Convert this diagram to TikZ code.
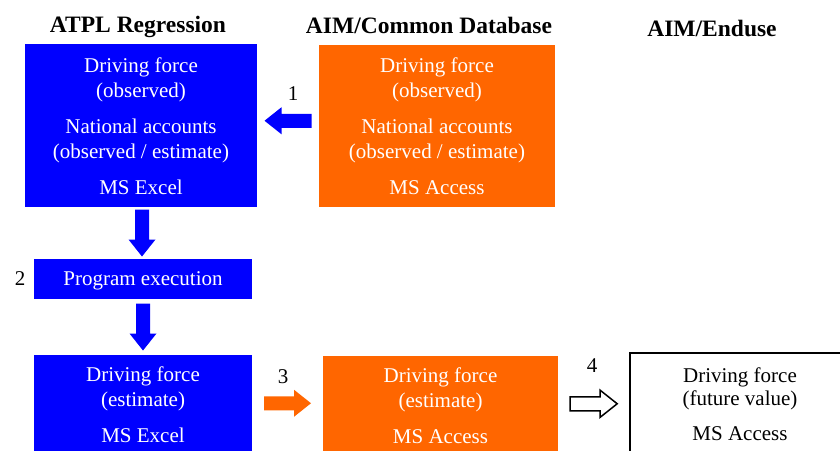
\documentclass[tikz,border=0pt]{standalone}
\usepackage{fontspec}
\setmainfont{Liberation Serif}
\usetikzlibrary{calc}
\definecolor{pblue}{HTML}{0000FF}
\definecolor{porange}{HTML}{FF6600}
\newcommand\bodyfnt{\fontsize{21}{25}\selectfont}
\newcommand\headfnt{\fontsize{23.5}{26}\selectfont\bfseries}
\tikzset{
  box/.style={inner sep=0pt, align=center, font=\bodyfnt},
  bluebox/.style={box, fill=pblue, text=white},
  orangebox/.style={box, fill=porange, text=white},
  whitebox/.style={box, draw=black, line width=1.6pt, fill=white, text=black, font=\fontsize{21}{23}\selectfont},
  header/.style={inner sep=0pt, font=\headfnt, text depth=0pt},
  numlabel/.style={inner sep=0pt, font=\fontsize{21}{25}\selectfont},
  blockarrow/.pic={\path[pic actions] (-23.5,-7) -- (6.5,-7) -- (6.5,-13.5) -- (23.5,0) -- (6.5,13.5) -- (6.5,7) -- (-23.5,7) -- cycle;},
}
\begin{document}
\begin{tikzpicture}[x=1pt, y=-1pt]
\useasboundingbox (0,0) rectangle (840,450);
\clip (0,0) rectangle (840,450);
% headers
\node[header] (h1) at (138,24) {ATPL Regression};
\node[header] (h2) at (429,25) {AIM/Common Database};
\node[header] (h3) at (712,28.5) {AIM/Enduse};
% boxes
\node[bluebox, minimum width=232pt, minimum height=163pt] (b1) at (141,125.5)
  {\rule{0pt}{17pt}Driving force\\(observed)\\[11pt]National accounts\\(observed / estimate)\\[11pt]MS Excel};
\node[orangebox, minimum width=236pt, minimum height=162pt] (o1) at (437,126)
  {Driving force\\(observed)\\[11pt]National accounts\\(observed / estimate)\\[11pt]MS Access};
\node[bluebox, minimum width=218pt, minimum height=40pt, text depth=0pt] (pe) at (143,279) {Program execution};
\node[bluebox, minimum width=218pt, minimum height=100pt] (b3) at (143,405)
  {Driving force\\(estimate)\\[11pt]MS Excel};
\node[orangebox, minimum width=235pt, minimum height=99pt] (o2) at (440.5,405.5)
  {Driving force\\(estimate)\\[11pt]MS Access};
\node[whitebox, minimum width=220pt, minimum height=102pt] (wb) at (740,404)
  {Driving force\\(future value)\\[12pt]MS Access};
% block arrows
\pic[fill=pblue, rotate=180] at ($(b1.east)!0.5!(o1.west)+(0,-5)$) {blockarrow};
\pic[fill=pblue, rotate=-90] at ($(b1.south)!0.5!(pe.north)$) {blockarrow};
\pic[fill=pblue, rotate=-90] at ($(pe.south)!0.5!(b3.north)$) {blockarrow};
\pic[fill=porange] at ($(b3.east)!0.5!(o2.west)+(0,-2)$) {blockarrow};
\pic[fill=white, draw=black, line width=1.5pt] at ($(o2.east)!0.5!(wb.west)+(0,-1)$) {blockarrow};
% step numbers
\node[numlabel] (n1) at (293,94) {1};
\node[numlabel] (n2) at (20,279) {2};
\node[numlabel] (n3) at (283,377) {3};
\node[numlabel] (n4) at (592,366) {4};
\end{tikzpicture}
\end{document}
